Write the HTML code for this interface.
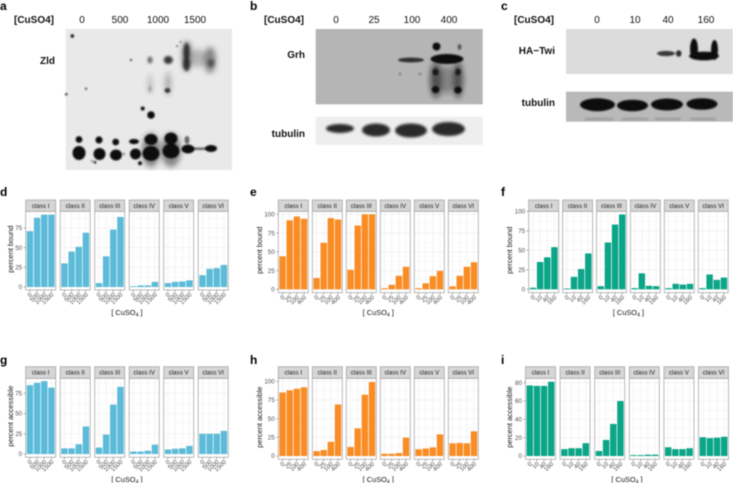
<!DOCTYPE html>
<html>
<head>
<meta charset="utf-8">
<title>CuSO4 induction blots and binding charts</title>
<style>
html,body{margin:0;padding:0;background:#fff;width:733px;height:483px;overflow:hidden}
svg{display:block;font-family:"Liberation Sans",sans-serif}
#figure{filter:blur(0.4px)}
.h{font-size:10px;fill:#111}
.b{font-weight:bold}
.letter{font-size:12px;font-weight:bold;fill:#000}
</style>
</head>
<body>
<svg id="figure" width="733" height="483" viewBox="0 0 733 483" xmlns="http://www.w3.org/2000/svg">
<defs>
<filter id="b1" x="-50%" y="-50%" width="200%" height="200%"><feGaussianBlur stdDeviation="0.9"/></filter>
<filter id="b2" x="-50%" y="-50%" width="200%" height="200%"><feGaussianBlur stdDeviation="1.3"/></filter>
<filter id="b3" x="-50%" y="-50%" width="200%" height="200%"><feGaussianBlur stdDeviation="2.6"/></filter>
</defs>

<g>
<text class="letter" x="0" y="10">a</text>
<text class="h b" x="14" y="23">[CuSO4]</text>
<text class="h" x="82" y="23" text-anchor="middle">0</text>
<text class="h" x="120" y="23" text-anchor="middle">500</text>
<text class="h" x="158" y="23" text-anchor="middle">1000</text>
<text class="h" x="195" y="23" text-anchor="middle">1500</text>
<text class="h b" x="55" y="64" text-anchor="end">Zld</text>
<rect x="65.7" y="29" width="166.3" height="141" fill="#e9e9e9"/>
<g fill="#222" filter="url(#b3)" opacity=".5">
<ellipse cx="187" cy="56" rx="5" ry="15"/><ellipse cx="210" cy="60" rx="6" ry="13"/><ellipse cx="198" cy="58" rx="8" ry="9" opacity=".5"/>
<ellipse cx="171" cy="150" rx="10" ry="17"/><ellipse cx="151" cy="150" rx="9" ry="17"/>
<ellipse cx="150" cy="84" rx="2" ry="10" opacity=".5"/><ellipse cx="168" cy="84" rx="3" ry="12" opacity=".6"/>
</g>
<g fill="#111" filter="url(#b1)">
<ellipse cx="79" cy="153" rx="6.500" ry="7"/><ellipse cx="99.500" cy="154" rx="6" ry="6"/><ellipse cx="116" cy="155" rx="6" ry="5.500"/><ellipse cx="135.500" cy="154" rx="5.500" ry="5.500"/>
<ellipse cx="151" cy="153.500" rx="8.500" ry="7.500"/><ellipse cx="171" cy="151" rx="8.500" ry="7.500"/><ellipse cx="188" cy="149" rx="6.500" ry="4.500"/><ellipse cx="211" cy="148.500" rx="6" ry="3.500"/><rect x="193" y="147.500" width="14" height="2.500" opacity=".6"/>
<circle cx="79" cy="139.500" r="3.400"/><circle cx="99" cy="140" r="3.600"/><circle cx="115.700" cy="142" r="3.400"/><ellipse cx="134" cy="141.500" rx="5" ry="2.600"/>
<ellipse cx="151" cy="139.500" rx="6.500" ry="5.500"/><ellipse cx="171" cy="138.500" rx="6.500" ry="6"/><ellipse cx="187" cy="140" rx="2.500" ry="4" opacity=".6"/>
<circle cx="151" cy="115" r="3.800"/><circle cx="142.700" cy="108.500" r="2"/><circle cx="72.300" cy="36" r="1.700"/><circle cx="131" cy="60" r="1"/><circle cx="86" cy="88.700" r="1"/><circle cx="66.300" cy="94.300" r="1.200"/><circle cx="140" cy="163.300" r="2"/><circle cx="95" cy="162.300" r="1.300"/><circle cx="177" cy="46" r=".8"/><circle cx="180.500" cy="42" r=".7"/>
<ellipse cx="167.500" cy="90.500" rx="3" ry="2.500" opacity=".75"/><circle cx="92" cy="161" r="1" opacity=".6"/><circle cx="124" cy="154" r="1" opacity=".7"/>
</g>
<g fill="#222" filter="url(#b2)">
<ellipse cx="168.300" cy="60" rx="4.500" ry="4" opacity=".9"/><ellipse cx="150" cy="60" rx="2.500" ry="3.500" opacity=".65"/>
<ellipse cx="186.500" cy="52" rx="3" ry="9" opacity=".85"/><ellipse cx="186.500" cy="64" rx="3.500" ry="7" opacity=".85"/><ellipse cx="211" cy="63" rx="3.500" ry="4" opacity=".5"/>
<ellipse cx="150" cy="89" rx="1" ry="3" opacity=".5"/>
</g>
</g>

<g>
<text class="letter" x="250" y="10">b</text>
<text class="h b" x="264" y="23">[CuSO4]</text>
<text class="h" x="336" y="23" text-anchor="middle">0</text>
<text class="h" x="374" y="23" text-anchor="middle">25</text>
<text class="h" x="412" y="23" text-anchor="middle">100</text>
<text class="h" x="449" y="23" text-anchor="middle">400</text>
<text class="h b" x="305" y="58" text-anchor="end">Grh</text>
<text class="h b" x="305" y="137" text-anchor="end">tubulin</text>
<rect x="315.700" y="29" width="167" height="75.300" fill="#b5b5b5"/>
<rect x="315.700" y="116.700" width="167" height="28.300" fill="#eeeeee"/>
<g fill="#111" filter="url(#b3)" opacity=".6">
<ellipse cx="436" cy="80" rx="6" ry="18"/><ellipse cx="458" cy="80" rx="5" ry="18"/><ellipse cx="447" cy="80" rx="8" ry="14" opacity=".5"/>
</g>
<g fill="#111" filter="url(#b1)">
<ellipse cx="411" cy="60" rx="13" ry="2.500" opacity=".8"/>
<ellipse cx="447" cy="59" rx="16.500" ry="5"/>
<circle cx="436.500" cy="46.500" r="4"/><ellipse cx="459.500" cy="47" rx="1.800" ry="3" opacity=".6"/>
<ellipse cx="435.500" cy="72" rx="3.200" ry="3.500" opacity=".85"/><ellipse cx="435.500" cy="89.500" rx="3.800" ry="3.500"/>
<ellipse cx="458" cy="72" rx="3" ry="3.500" opacity=".8"/><ellipse cx="458" cy="90" rx="3.800" ry="3.500"/><ellipse cx="400" cy="74" rx="1.500" ry="1.500" opacity=".25"/><ellipse cx="420" cy="74" rx="1.500" ry="1.500" opacity=".25"/>
</g>
<g fill="#2b2b2b" filter="url(#b2)">
<ellipse cx="340" cy="128.500" rx="14" ry="4.500"/><ellipse cx="376" cy="130" rx="14" ry="6.500"/><ellipse cx="411" cy="130.500" rx="16" ry="7"/><ellipse cx="448.500" cy="129" rx="16.500" ry="7"/>
</g>
</g>

<g>
<text class="letter" x="501" y="10">c</text>
<text class="h b" x="514" y="23">[CuSO4]</text>
<text class="h" x="597" y="23" text-anchor="middle">0</text>
<text class="h" x="635" y="23" text-anchor="middle">10</text>
<text class="h" x="668" y="23" text-anchor="middle">40</text>
<text class="h" x="706" y="23" text-anchor="middle">160</text>
<text class="h b" x="555" y="54" text-anchor="end">HA−Twi</text>
<text class="h b" x="555" y="106" text-anchor="end">tubulin</text>
<rect x="566" y="29" width="167" height="45" fill="#dcdcdc"/>
<rect x="566" y="91.700" width="167" height="30" fill="#b9b9b9"/>
<g fill="#111" filter="url(#b1)">
<ellipse cx="666" cy="53.500" rx="9" ry="2.600" opacity=".8"/><ellipse cx="678.700" cy="53.500" rx="2.800" ry="3.200" opacity=".85"/>
<ellipse cx="704" cy="56" rx="15" ry="4.400"/><ellipse cx="694" cy="49" rx="4" ry="10.500"/><ellipse cx="714.500" cy="50" rx="3.500" ry="10"/>
</g>
<g fill="#111" filter="url(#b1)">
<ellipse cx="597.500" cy="104.700" rx="17.500" ry="6.500"/><ellipse cx="632.500" cy="105.500" rx="15.500" ry="5.800"/><ellipse cx="667" cy="104.500" rx="16" ry="6"/><ellipse cx="702" cy="104" rx="15.500" ry="5.800"/>
</g>
<g fill="#777" filter="url(#b2)" opacity=".6">
<rect x="585" y="118" width="28" height="2"/><rect x="622" y="118" width="26" height="2"/><rect x="655" y="118" width="26" height="2"/><rect x="690" y="118" width="26" height="2"/>
</g>
</g>

<g id="charts"></g>
</svg>

<script>
const classNames = ["class I", "class II", "class III", "class IV", "class V", "class VI"];
const dosesZld = ["0", "500", "1000", "1500"];
const dosesGrh = ["0", "25", "100", "400"];
const dosesTwi = ["0", "10", "40", "160"];
const ticksPct = [0, 25, 50, 75];
const ticksPct100 = [0, 25, 50, 75, 100];
const ticksPct80 = [0, 20, 40, 60, 80];

const boundZld = [[71, 88, 92, 92], [30, 45, 51, 69], [5, 39, 73, 89], [1, 2, 2, 6.5], [5, 6.5, 7, 8.5], [15, 23, 24, 28]];
const boundGrh = [[44, 92, 97, 94], [15, 62, 95, 93], [26, 85, 100, 100], [1.5, 6, 18, 30], [1.5, 8, 17.5, 24.5], [4, 18, 30, 36]];
const boundTwi = [[2, 35, 41, 54], [1, 16, 26, 46], [4, 60, 83, 96], [1.5, 20.5, 4.5, 4], [1.5, 7, 6, 7], [1.5, 19, 12, 15]];
const accessZld = [[85, 88, 90, 82], [7, 7, 12, 34], [8, 24, 61, 83], [3, 3, 4, 11.5], [5.5, 6.5, 7, 10], [25, 25, 25, 28.5]];
const accessGrh = [[85, 88, 90, 92], [6.5, 8, 19, 69], [12, 37, 82, 99], [3, 3, 4, 24.5], [9, 10, 11.5, 29], [17, 17.5, 17, 33]];
const accessTwi = [[77, 76.5, 76.5, 81], [7.5, 8.5, 8.5, 14], [5.5, 17.5, 35, 60], [1, 1, 1.5, 1.5], [9.5, 7.5, 7.5, 8.5], [20.5, 19.5, 20, 21]];

const NS = "http://www.w3.org/2000/svg";
const root = document.getElementById("charts");

function make(parent, tag, attrs, text) {
  const el = document.createElementNS(NS, tag);
  for (const k in attrs) el.setAttribute(k, attrs[k]);
  if (text !== undefined) el.textContent = text;
  parent.appendChild(el);
  return el;
}

function drawChart(o) {
  const g = make(root, "g", {});
  
  

  const k = (o.yZero - o.yRefPx) / o.yRefVal;
  const yAt = v => o.yZero - v * k;

  const letter = make(g, "text", { x: o.letterX, y: o.letterY, "font-size": 12, "font-weight": "bold", fill: "#000" }, o.id);
  
  

  const yTitle = make(g, "text", { transform: "translate(" + o.yTitleX + "," + ((o.yZero + o.stripBottom) / 2) + ") rotate(-90)", "text-anchor": "middle", "font-size": 7.4, fill: "#111" }, o.yTitle);
  
  

  const xTitle = make(g, "text", { x: o.left + (o.step * 5 + o.width) / 2, y: o.xTitleY, "text-anchor": "middle", "font-size": 7.4, fill: "#111" });
  make(xTitle, "tspan", {}, "[ CuSO");
  make(xTitle, "tspan", { "font-size": 5.2, dy: 1.6 }, "4");
  make(xTitle, "tspan", { dy: -1.6 }, " ]");
  
  

  o.ticks.forEach(t => {
    const label = make(g, "text", { x: o.left - 3.6, y: yAt(t) + 2.2, "text-anchor": "end", "font-size": 6.2, fill: "#4d4d4d" }, String(t));
    
    
    const tick = make(g, "line", { x1: o.left - 2, x2: o.left, y1: yAt(t), y2: yAt(t), stroke: "#555", "stroke-width": 0.5 });
    
    
  });

  o.series.forEach((vals, p) => {
    const px = o.left + o.step * p;
    const unit = o.width / 4.2;
    const xAt = i => px + (i + 0.6) * unit;

    const panel = make(g, "g", {});
    
    

    make(panel, "rect", { x: px, y: o.stripBottom, width: o.width, height: o.panelBottom - o.stripBottom, fill: "#fff" });
    const tickStep = o.ticks[1] - o.ticks[0];
    for (let v = 0; yAt(v) > o.stripBottom; v += tickStep / 2) {
      make(panel, "line", { x1: px, x2: px + o.width, y1: yAt(v), y2: yAt(v), stroke: "#ebebeb", "stroke-width": (v / tickStep) % 1 ? 0.3 : 0.55 });
    }
    vals.forEach((v, i) => {
      make(panel, "line", { x1: xAt(i), x2: xAt(i), y1: o.stripBottom, y2: o.panelBottom, stroke: "#ebebeb", "stroke-width": 0.55 });
    });

    vals.forEach((v, i) => {
      const bar = make(panel, "rect", { x: xAt(i) - unit * 0.45, y: yAt(v), width: unit * 0.9, height: o.yZero - yAt(v), fill: o.color });
      
      

      const tick = make(panel, "line", { x1: xAt(i), x2: xAt(i), y1: o.panelBottom, y2: o.panelBottom + 2, stroke: "#555", "stroke-width": 0.5 });
      
      

      const label = make(panel, "text", { transform: "translate(" + (xAt(i) + 2.5) + "," + (o.panelBottom + 5) + ") rotate(-45)", "text-anchor": "end", "font-size": 6.2, fill: "#4d4d4d" }, o.doses[i]);
      
      
    });

    make(panel, "rect", { x: px, y: o.stripBottom, width: o.width, height: o.panelBottom - o.stripBottom, fill: "none", stroke: "#a8a8a8", "stroke-width": 0.8 });
    const strip = make(panel, "rect", { x: px, y: o.stripTop, width: o.width, height: o.stripBottom - o.stripTop, fill: "#d6d6d6", stroke: "#a8a8a8", "stroke-width": 0.8 });
    
    
    const stripLabel = make(panel, "text", { x: px + o.width / 2, y: (o.stripTop + o.stripBottom) / 2 + 2.2, "text-anchor": "middle", "font-size": 6.2, fill: "#1a1a1a" }, classNames[p]);
    
    
  });
}

drawChart({ id: "d", color: "#5bbbd8", series: boundZld, doses: dosesZld, ticks: ticksPct, yTitle: "percent bound", left: 25.7, step: 34.5, width: 30, stripTop: 200, stripBottom: 211.3, panelBottom: 290, yZero: 287, yRefVal: 75, yRefPx: 228, letterX: 0, letterY: 196, yTitleX: 13, xTitleY: 315 });
drawChart({ id: "e", color: "#f98c24", series: boundGrh, doses: dosesGrh, ticks: ticksPct100, yTitle: "percent bound", left: 278.3, step: 34, width: 30, stripTop: 200, stripBottom: 211.3, panelBottom: 292.7, yZero: 289.3, yRefVal: 100, yRefPx: 214.3, letterX: 250, letterY: 196, yTitleX: 262, xTitleY: 315 });
drawChart({ id: "f", color: "#0ba587", series: boundTwi, doses: dosesTwi, ticks: ticksPct100, yTitle: "percent bound", left: 528.7, step: 33.9, width: 30, stripTop: 200, stripBottom: 211.3, panelBottom: 292.7, yZero: 289.3, yRefVal: 100, yRefPx: 211.3, letterX: 501, letterY: 196, yTitleX: 512, xTitleY: 315 });
drawChart({ id: "g", color: "#5bbbd8", series: accessZld, doses: dosesZld, ticks: ticksPct, yTitle: "percent accessible", left: 25.7, step: 34.5, width: 30, stripTop: 366.7, stripBottom: 378.3, panelBottom: 457.3, yZero: 454, yRefVal: 75, yRefPx: 393.3, letterX: 0, letterY: 364, yTitleX: 13, xTitleY: 482 });
drawChart({ id: "h", color: "#f98c24", series: accessGrh, doses: dosesGrh, ticks: ticksPct100, yTitle: "percent accessible", left: 278.3, step: 34, width: 30, stripTop: 366.7, stripBottom: 378.3, panelBottom: 459.3, yZero: 456, yRefVal: 100, yRefPx: 381.3, letterX: 250, letterY: 364, yTitleX: 262, xTitleY: 482 });
drawChart({ id: "i", color: "#0ba587", series: accessTwi, doses: dosesTwi, ticks: ticksPct80, yTitle: "percent accessible", left: 525.5, step: 34.6, width: 30, stripTop: 366.7, stripBottom: 378.3, panelBottom: 459.3, yZero: 456, yRefVal: 80, yRefPx: 382.7, letterX: 501, letterY: 364, yTitleX: 512, xTitleY: 482 });
</script>
</body>
</html>
